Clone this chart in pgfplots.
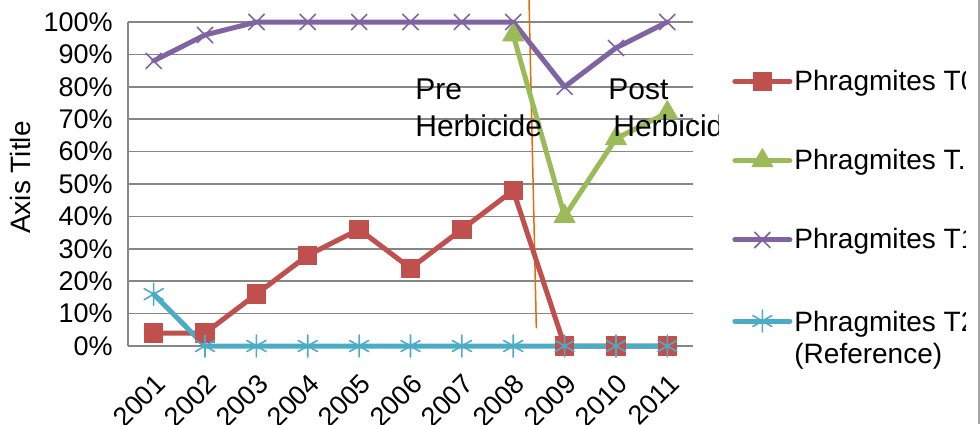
\documentclass[border=0pt]{standalone}
\usepackage{pgfplots}
\pgfplotsset{compat=1.18}
\usepackage{fontspec}
\setmainfont{Liberation Sans}
\definecolor{cred}{HTML}{C0504D}
\definecolor{cgreen}{HTML}{9BBB59}
\definecolor{cpurple}{HTML}{8064A2}
\definecolor{ccyan}{HTML}{4BACC6}
\definecolor{corange}{HTML}{E46C0A}
\definecolor{cgrid}{HTML}{868686}
\begin{document}
\begin{tikzpicture}
\path[use as bounding box] (0,0) rectangle (490pt,212pt);
\begin{scope}
\clip (0,0) rectangle (482.5pt,212pt);
\begin{axis}[
  at={(64pt,39pt)}, anchor=south west,
  scale only axis, width=282.5pt, height=162pt,
  xmin=-0.5, xmax=10.5, ymin=0, ymax=100,
  clip=false,
  axis line style={draw=none},
  major tick length=0pt,
  xtick={0,1,2,3,4,5,6,7,8,9,10},
  xticklabels={2001,2002,2003,2004,2005,2006,2007,2008,2009,2010,2011},
  ytick={0,10,...,100},
  yticklabel={\pgfmathprintnumber{\tick}\%},
  /pgf/number format/assume math mode=true,
  ymajorgrids, major grid style={cgrid, line width=0.75pt},
  xticklabel shift=13pt,
  x tick label style={rotate=45, anchor=north east, inner sep=0pt, font=\fontsize{13.5}{15}\selectfont},
  y tick label style={anchor=east, inner sep=0pt, xshift=-7.5pt, font=\fontsize{13.5}{15}\selectfont},
  ylabel={Axis Title},
  ylabel style={at={(axis description cs:-0.191,0.52)}, anchor=center, font=\fontsize{14}{16}\selectfont},
  legend style={at={(1.069,0.86)}, anchor=north west, draw=none, fill=none, inner sep=0pt, row sep=26pt,
    font=\fontsize{14}{17}\selectfont, nodes={inner sep=1pt, align=left}},
  legend cell align=left,
  legend image code/.code={\draw[mark repeat=2, mark phase=2] plot coordinates {(0pt,0pt) (13.75pt,0pt) (27.5pt,0pt)};},
  every axis plot/.append style={line width=2.5pt, line join=round, line cap=round},
]
\draw[cgrid, line width=0.75pt] (rel axis cs:0,0) -- (rel axis cs:0,1);
\addplot[corange, line width=0.75pt, forget plot] coordinates {(7.30,112) (7.45,5.6)};
\addplot[cred, mark=square*, mark size=4.6pt, mark options={fill=cred, draw=cred, line width=0.5pt}] coordinates {
(0,4) (1,4) (2,16) (3,28) (4,36) (5,24) (6,36) (7,48) (8,0) (9,0) (10,0)};
\addplot[cgreen, mark=triangle*, mark size=6pt, mark options={fill=cgreen, draw=cgreen, line width=0.5pt}] coordinates {
(7,96) (8,40) (9,64) (10,72)};
\addplot[cpurple, mark=x, mark size=5.5pt, mark options={draw=cpurple, line width=0.8pt}] coordinates {
(0,88) (1,96) (2,100) (3,100) (4,100) (5,100) (6,100) (7,100) (8,80) (9,92) (10,100)};
\addplot[ccyan, mark=asterisk, mark size=5.5pt, mark options={draw=ccyan, line width=0.8pt}] coordinates {
(0,16) (1,0) (2,0) (3,0) (4,0) (5,0) (6,0) (7,0) (8,0) (9,0) (10,0)};
\legend{Phragmites T0, Phragmites T.5, Phragmites T1, {\raisebox{0pt}[\height][0pt]{\begin{tabular}[t]{@{}l@{}}Phragmites T2\\[-1pt](Reference)\end{tabular}}}}
\end{axis}
\node[anchor=base west, inner sep=0pt, font=\fontsize{15}{17}\selectfont] at (207.5pt,162pt) {Pre};
\node[anchor=base west, inner sep=0pt, font=\fontsize{15}{17}\selectfont] at (207.5pt,143.5pt) {Herbicide};
\begin{scope}
\clip (0,0) rectangle (359pt,212pt);
\node[anchor=base west, inner sep=0pt, font=\fontsize{15}{17}\selectfont] at (304pt,162pt) {Post};
\node[anchor=base west, inner sep=0pt, font=\fontsize{15}{17}\selectfont] at (306.5pt,143.5pt) {Herbicide};
\end{scope}
\end{scope}
\draw[black!35, line width=0.75pt] (489.5pt,0) -- (489.5pt,212pt);
\end{tikzpicture}
\end{document}
